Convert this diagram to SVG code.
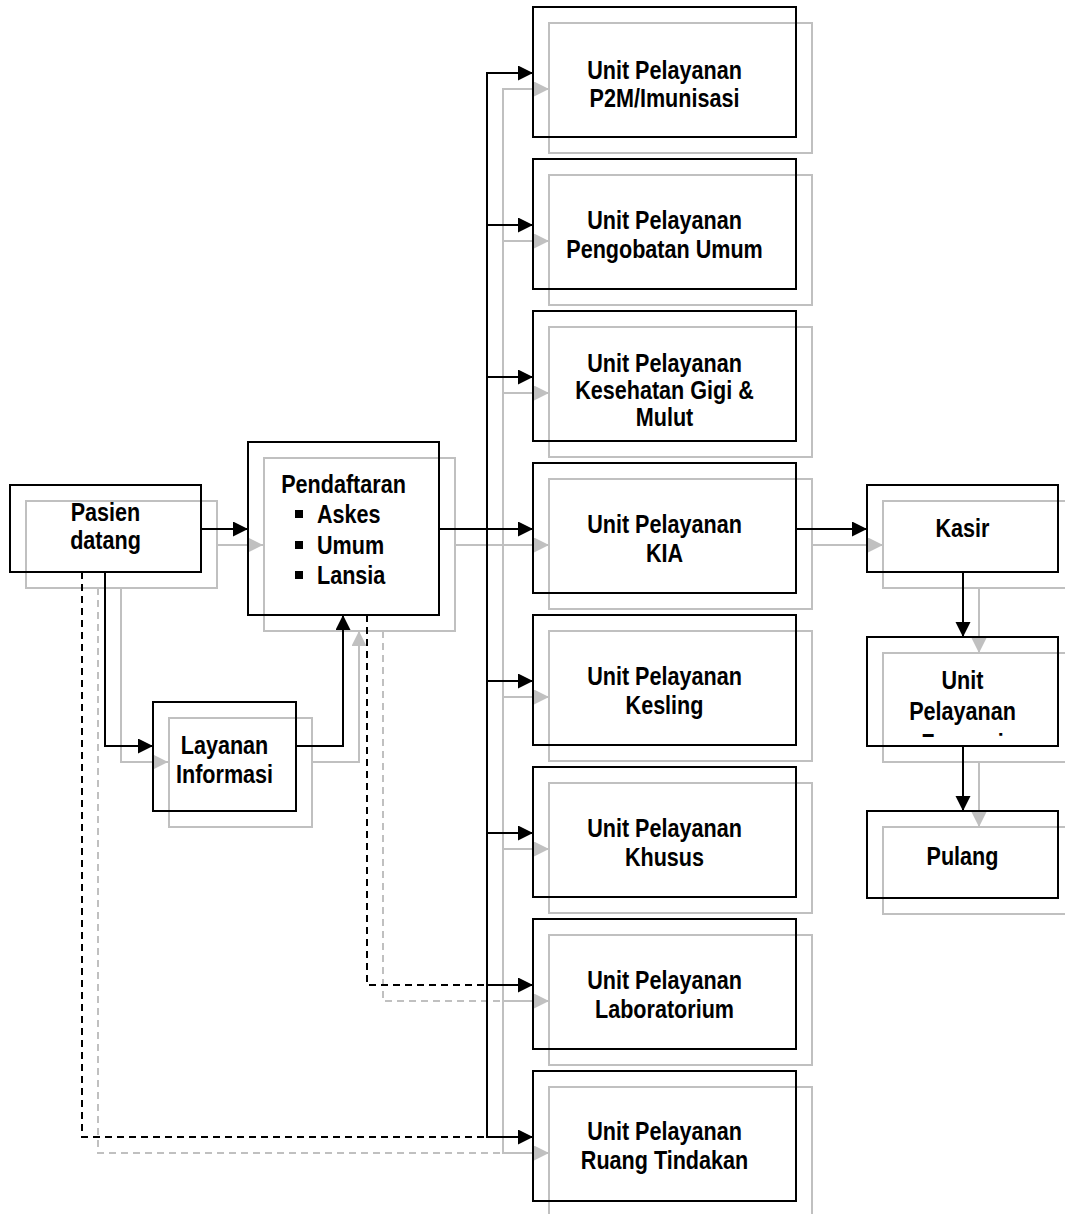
<svg xmlns="http://www.w3.org/2000/svg" width="1065" height="1214" viewBox="0 0 1065 1214">
<style>
.bx{fill:none;stroke:#000;stroke-width:2}
.sh{fill:none;stroke:#c0c0c0;stroke-width:2}
.cn{fill:none;stroke:#000;stroke-width:2}
.cg{fill:none;stroke:#c0c0c0;stroke-width:2}
.d{stroke-dasharray:7 5}
.ak{marker-end:url(#ah)}
.ag{marker-end:url(#ahg)}
text{font-family:"Liberation Sans",Arial,sans-serif;font-weight:bold;font-size:26px;fill:#000}
.c{text-anchor:middle}
</style>
<defs>
<marker id="ah" markerUnits="userSpaceOnUse" markerWidth="16" markerHeight="16" refX="15" refY="7.5" orient="auto"><path d="M0,0 L15,7.5 L0,15 z" fill="#000"/></marker>
<marker id="ahg" markerUnits="userSpaceOnUse" markerWidth="16" markerHeight="16" refX="15" refY="7.5" orient="auto"><path d="M0,0 L15,7.5 L0,15 z" fill="#c0c0c0"/></marker>
<clipPath id="clipF"><rect x="867" y="637" width="191" height="100"/></clipPath>
</defs>

<g id="shadows">
<rect class="sh" x="26" y="501" width="191" height="87"/>
<rect class="sh" x="264" y="458" width="191" height="173"/>
<rect class="sh" x="169" y="718" width="143" height="109"/>
<rect class="sh" x="549" y="23" width="263" height="130"/>
<rect class="sh" x="549" y="175" width="263" height="130"/>
<rect class="sh" x="549" y="327" width="263" height="130"/>
<rect class="sh" x="549" y="479" width="263" height="130"/>
<rect class="sh" x="549" y="631" width="263" height="130"/>
<rect class="sh" x="549" y="783" width="263" height="130"/>
<rect class="sh" x="549" y="935" width="263" height="130"/>
<rect class="sh" x="549" y="1087" width="263" height="130"/>
<rect class="sh" x="883" y="501" width="191" height="87"/>
<rect class="sh" x="883" y="653" width="191" height="109"/>
<rect class="sh" x="883" y="827" width="191" height="87"/>
</g>

<g id="connectors">
<g id="connectors-shadow">
<path class="cg ag" d="M217,545 H263"/>
<path class="cg ag" d="M121,588 V762 H168"/>
<path class="cg ag" d="M312,762 H359 V631"/>
<path class="cg ag" d="M455,545 H549"/>
<path class="cg" d="M503,89 V1153"/>
<path class="cg ag" d="M502,89 H549"/>
<path class="cg ag" d="M503,241 H549"/>
<path class="cg ag" d="M503,393 H549"/>
<path class="cg ag" d="M503,697 H549"/>
<path class="cg ag" d="M503,849 H549"/>
<path class="cg ag" d="M503,1001 H549"/>
<path class="cg ag" d="M502,1153 H549"/>
<path class="cg d" d="M98,588 V1153 H503"/>
<path class="cg d" d="M383,631 V1001 H503"/>
<path class="cg ag" d="M812,545 H883"/>
<path class="cg ag" d="M979,588 V653"/>
<path class="cg ag" d="M979,762 V827"/>
</g>
<g id="connectors-main">
<path class="cn ak" d="M201,529 H248"/>
<path class="cn ak" d="M105,572 V746 H153"/>
<path class="cn ak" d="M296,746 H343 V615"/>
<path class="cn ak" d="M439,529 H533"/>
<path class="cn" d="M487,73 V1137"/>
<path class="cn ak" d="M486,73 H533"/>
<path class="cn ak" d="M487,225 H533"/>
<path class="cn ak" d="M487,377 H533"/>
<path class="cn ak" d="M487,681 H533"/>
<path class="cn ak" d="M487,833 H533"/>
<path class="cn ak" d="M487,985 H533"/>
<path class="cn ak" d="M486,1137 H533"/>
<path class="cn d" d="M82,572 V1137 H487"/>
<path class="cn d" d="M367,615 V985 H487"/>
<path class="cn ak" d="M796,529 H867"/>
<path class="cn ak" d="M963,572 V637"/>
<path class="cn ak" d="M963,746 V811"/>
</g>
</g>

<g id="pasien">
<rect class="bx" x="10" y="485" width="191" height="87"/>
<text class="c" transform="translate(105.5 0) scale(0.83 1)"><tspan x="0" y="521">Pasien</tspan><tspan x="0" y="549">datang</tspan></text>
</g>

<g id="pendaftaran">
<rect class="bx" x="248" y="442" width="191" height="173"/>
<text class="c" transform="translate(343.5 0) scale(0.83 1)"><tspan x="0" y="493">Pendaftaran</tspan></text>
<rect x="295" y="510" width="8" height="8" fill="#000"/>
<rect x="295" y="541" width="8" height="8" fill="#000"/>
<rect x="295" y="571" width="8" height="8" fill="#000"/>
<text transform="translate(317 0) scale(0.83 1)"><tspan x="0" y="523">Askes</tspan><tspan x="0" y="554">Umum</tspan><tspan x="0" y="584">Lansia</tspan></text>
</g>

<g id="layanan">
<rect class="bx" x="153" y="702" width="143" height="109"/>
<text class="c" transform="translate(224.5 0) scale(0.83 1)"><tspan x="0" y="754">Layanan</tspan><tspan x="0" y="783">Informasi</tspan></text>
</g>

<g id="unit-p2m">
<rect class="bx" x="533" y="7" width="263" height="130"/>
<text class="c" transform="translate(664.5 0) scale(0.83 1)"><tspan x="0" y="79">Unit Pelayanan</tspan><tspan x="0" y="107">P2M/Imunisasi</tspan></text>
</g>

<g id="unit-pengobatan">
<rect class="bx" x="533" y="159" width="263" height="130"/>
<text class="c" transform="translate(664.5 0) scale(0.83 1)"><tspan x="0" y="229">Unit Pelayanan</tspan><tspan x="0" y="258">Pengobatan Umum</tspan></text>
</g>

<g id="unit-gigi">
<rect class="bx" x="533" y="311" width="263" height="130"/>
<text class="c" transform="translate(664.5 0) scale(0.83 1)"><tspan x="0" y="372">Unit Pelayanan</tspan><tspan x="0" y="399">Kesehatan Gigi &amp;</tspan><tspan x="0" y="426">Mulut</tspan></text>
</g>

<g id="unit-kia">
<rect class="bx" x="533" y="463" width="263" height="130"/>
<text class="c" transform="translate(664.5 0) scale(0.83 1)"><tspan x="0" y="533">Unit Pelayanan</tspan><tspan x="0" y="562">KIA</tspan></text>
</g>

<g id="unit-kesling">
<rect class="bx" x="533" y="615" width="263" height="130"/>
<text class="c" transform="translate(664.5 0) scale(0.83 1)"><tspan x="0" y="685">Unit Pelayanan</tspan><tspan x="0" y="714">Kesling</tspan></text>
</g>

<g id="unit-khusus">
<rect class="bx" x="533" y="767" width="263" height="130"/>
<text class="c" transform="translate(664.5 0) scale(0.83 1)"><tspan x="0" y="837">Unit Pelayanan</tspan><tspan x="0" y="866">Khusus</tspan></text>
</g>

<g id="unit-lab">
<rect class="bx" x="533" y="919" width="263" height="130"/>
<text class="c" transform="translate(664.5 0) scale(0.83 1)"><tspan x="0" y="989">Unit Pelayanan</tspan><tspan x="0" y="1018">Laboratorium</tspan></text>
</g>

<g id="unit-tindakan">
<rect class="bx" x="533" y="1071" width="263" height="130"/>
<text class="c" transform="translate(664.5 0) scale(0.83 1)"><tspan x="0" y="1140">Unit Pelayanan</tspan><tspan x="0" y="1169">Ruang Tindakan</tspan></text>
</g>

<g id="kasir">
<rect class="bx" x="867" y="485" width="191" height="87"/>
<text class="c" transform="translate(962.5 0) scale(0.83 1)"><tspan x="0" y="537">Kasir</tspan></text>
</g>

<g id="farmasi">
<rect class="bx" x="867" y="637" width="191" height="109"/>
<g clip-path="url(#clipF)">
<text class="c" transform="translate(962.5 0) scale(0.83 1)"><tspan x="0" y="689">Unit</tspan><tspan x="0" y="720">Pelayanan</tspan><tspan x="0" y="752">Farmasi</tspan></text>
</g>
</g>

<g id="pulang">
<rect class="bx" x="867" y="811" width="191" height="87"/>
<text class="c" transform="translate(962.5 0) scale(0.83 1)"><tspan x="0" y="865">Pulang</tspan></text>
</g>
</svg>
